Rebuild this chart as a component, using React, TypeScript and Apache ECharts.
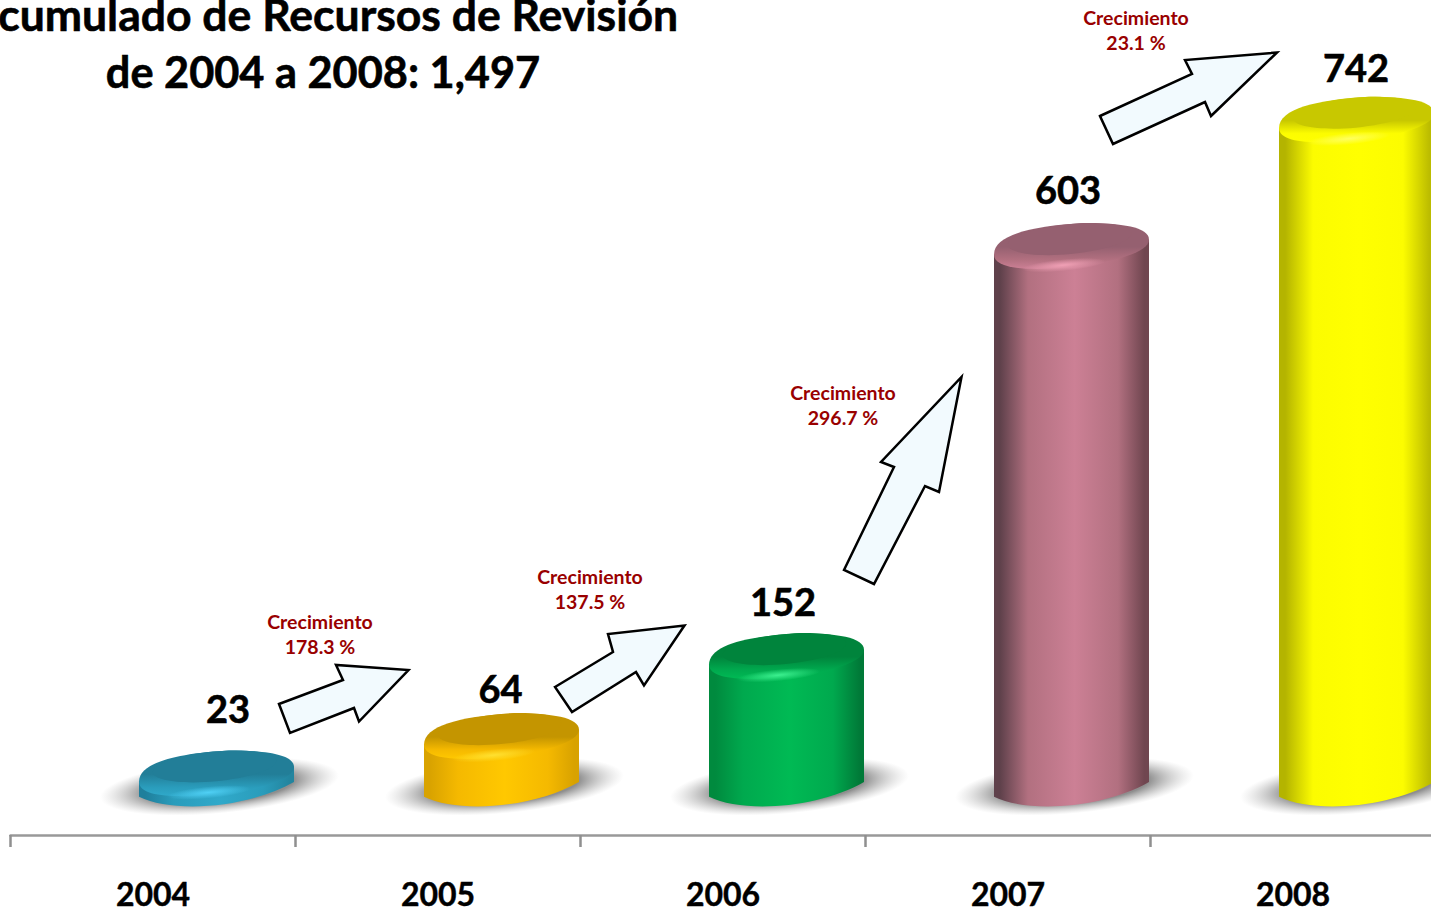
import React, { useEffect, useRef } from "react";
import * as echarts from "echarts";

const categories = ["2004", "2005", "2006", "2007", "2008"];
const values = [23, 64, 152, 603, 742];
const growthTitle = "Crecimiento";
const growthValues = ["178.3 %", "137.5 %", "296.7 %", "23.1 %"];
const titleLines = ["Acumulado de Recursos de Revisión", "de 2004 a 2008: 1,497"];

const FONT = "Lato";
const palettes = [
  { edgeL: "#1f7f9c", mid: "#2a9cbb", side: "#30a9ca", edgeR: "#23859f", face: "#227e98", glow: "#4fd0f5" },
  { edgeL: "#d9a300", mid: "#f5b900", side: "#ffc800", edgeR: "#d8a200", face: "#c49500", glow: "#ffe030" },
  { edgeL: "#008a3e", mid: "#00a94e", side: "#00ba54", edgeR: "#007a38", face: "#00843c", glow: "#3cf08f" },
  { edgeL: "#5f414b", mid: "#b27080", side: "#cc8095", edgeR: "#704650", face: "#956070", glow: "#f0a0b5" },
  { edgeL: "#b4b400", mid: "#fcfc00", side: "#ffff00", edgeR: "#bcbc00", face: "#c8c800", glow: "#ffff60" },
];
const labelDx = [75, 62.5, 60, 60, 63];
const labelGap = [42, 25, 32, 34, 30];
const BAR_DX = 63.5;
const TILT = 0.095;

function cylinder(params: any, api: any) {
  const i = api.value(0);
  const v = api.value(1);
  const [catX, topY] = api.coord([i, v]);
  const [, zeroY] = api.coord([i, 0]);
  const cx = catX + BAR_DX;
  const p = palettes[i];
  const a = 77.5;
  const capY = topY + 24;
  const baseY = zeroY + 18;
  const dy = a * Math.tan(TILT);
  const sideGrad = new echarts.graphic.LinearGradient(0, 0, 1, 0, [
    { offset: 0, color: p.edgeL },
    { offset: 0.04, color: p.edgeL },
    { offset: 0.22, color: p.mid },
    { offset: 0.52, color: p.side },
    { offset: 0.8, color: p.mid },
    { offset: 0.97, color: p.edgeR },
    { offset: 1, color: p.edgeR },
  ]);
  const capGrad = new echarts.graphic.LinearGradient(0, 0, 0, 1, [
    { offset: 0, color: p.face },
    { offset: 0.52, color: p.face },
    { offset: 0.8, color: p.mid },
    { offset: 1, color: p.side },
  ]);
  const bodyD =
    `M ${cx - a} ${capY + dy} L ${cx - a} ${baseY + dy} ` +
    `C ${cx - a + 35} ${baseY + 24.5} ${cx + a - 45} ${baseY + 18.5} ${cx + a} ${baseY - dy} ` +
    `L ${cx + a} ${capY - dy} Z`;
  const capD =
    `M ${cx - a} ${capY + dy} ` +
    `C ${cx - a} ${capY - 12} ${cx - 40} ${topY + 3} ${cx + 12} ${topY} ` +
    `C ${cx + 50} ${topY} ${cx + a} ${topY + 4} ${cx + a} ${capY - dy} ` +
    `C ${cx + a} ${capY + 7} ${cx + 30} ${capY + 18} ${cx - 10} ${capY + 21} ` +
    `C ${cx - 45} ${capY + 23} ${cx - a} ${capY + 22} ${cx - a} ${capY + dy} Z`;
  const glow = new echarts.graphic.RadialGradient(0.5, 0.5, 0.5, [
    { offset: 0, color: p.glow },
    { offset: 1, color: p.glow + "00" },
  ]);
  const shade = new echarts.graphic.RadialGradient(0.5, 0.5, 0.5, [
    { offset: 0, color: "rgba(120,120,120,0.95)" },
    { offset: 0.62, color: "rgba(130,130,130,0.9)" },
    { offset: 1, color: "rgba(190,190,190,0)" },
  ]);
  return {
    type: "group",
    children: [
      {
        type: "ellipse",
        x: cx + 3,
        y: baseY - 3,
        rotation: TILT,
        shape: { cx: 0, cy: 0, rx: 120, ry: 27 },
        style: { fill: shade },
      },
      { type: "path", shape: { pathData: bodyD }, style: { fill: sideGrad } },
      { type: "path", shape: { pathData: capD }, style: { fill: capGrad } },
      {
        type: "ellipse",
        x: cx - 2,
        y: capY - 8,
        rotation: TILT,
        shape: { cx: 0, cy: 0, rx: 62, ry: 15 },
        style: { fill: p.face },
      },
      {
        type: "ellipse",
        x: cx - 8,
        y: capY + 18,
        rotation: TILT,
        shape: { cx: 0, cy: 0, rx: 42, ry: 6 },
        style: { fill: glow },
      },
      {
        type: "text",
        x: catX + labelDx[i],
        y: topY - labelGap[i],
        style: {
          text: String(values[i]),
          fill: "#000000",
          stroke: "#000000",
          lineWidth: 0.6,
          font: `bold 38px ${FONT}`,
          align: "center",
          verticalAlign: "middle",
        },
      },
    ],
  };
}

const arrows = [
  [[279, 704], [343, 680], [336, 665], [408.5, 670], [359, 721.5], [354, 708], [290, 733]],
  [[555, 687], [613, 652], [608, 634], [684.5, 625.5], [644, 685.5], [636, 672], [572, 712]],
  [[844, 570], [894, 467], [881, 462], [961.5, 377], [939, 492], [925, 486], [874, 584]],
  [[1100, 116], [1192, 74], [1185, 60], [1277, 52.5], [1211, 116], [1205, 102], [1113, 144]],
];
const growthPos = [[320, 634], [590, 589], [843, 405], [1136, 30]];

function buildOption() {
  const graphics: any[] = [];
  arrows.forEach((pts) =>
    graphics.push({
      type: "polygon",
      shape: { points: pts },
      style: { fill: "#f2fafe", stroke: "#000000", lineWidth: 2.5, lineJoin: "miter" },
      z: 20,
    })
  );
  growthValues.forEach((g, i) => {
    const [x, y] = growthPos[i];
    graphics.push({
      type: "text",
      x,
      y: y - 13,
      z: 20,
      style: { text: growthTitle, fill: "#990000", font: `bold 19.5px ${FONT}`, align: "center", verticalAlign: "middle" },
    });
    graphics.push({
      type: "text",
      x,
      y: y + 12,
      z: 20,
      style: { text: g, fill: "#990000", font: `bold 19.5px ${FONT}`, align: "center", verticalAlign: "middle" },
    });
  });
  const titleSizes = [44.5, 43.3];
  titleLines.forEach((t, i) =>
    graphics.push({
      type: "text",
      x: 323,
      y: 13 + i * 58,
      z: 20,
      style: {
        text: t,
        fill: "#000000",
        stroke: "#000000",
        lineWidth: 0.6,
        font: `bold ${titleSizes[i]}px ${FONT}`,
        align: "center",
        verticalAlign: "middle",
      },
    })
  );
  return {
    animation: false,
    backgroundColor: "#ffffff",
    graphic: graphics,
    grid: { left: 10.5, top: 44, width: 1425, height: 791, containLabel: false },
    xAxis: {
      type: "category",
      data: categories,
      boundaryGap: true,
      axisLine: { show: true, onZero: false, lineStyle: { color: "#999999", width: 2.5 } },
      axisTick: { show: true, length: 12, lineStyle: { color: "#8f8f8f", width: 2.5 } },
      axisLabel: {
        color: "#000000",
        fontFamily: FONT,
        fontWeight: "bold",
        fontSize: 32,
        lineHeight: 28,
        margin: 44,
        interval: 0,
        textBorderColor: "#000000",
        textBorderWidth: 0.4,
      },
    },
    yAxis: { type: "value", min: -70, max: 800, show: false, splitLine: { show: false } },
    series: [
      {
        type: "custom",
        clip: false,
        renderItem: cylinder,
        encode: { x: 0, y: 1 },
        data: values.map((v, i) => [i, v]),
      },
    ],
  };
}

export default function App() {
  const ref = useRef<HTMLDivElement>(null);
  useEffect(() => {
    document.body.style.margin = "0";
    document.body.style.overflow = "hidden";
    const chart = echarts.init(ref.current!, undefined, { renderer: "svg" });
    chart.setOption(buildOption());
    return () => chart.dispose();
  }, []);
  return <div ref={ref} style={{ width: 1445, height: 910, position: "absolute", left: 0, top: 0 }} />;
}
